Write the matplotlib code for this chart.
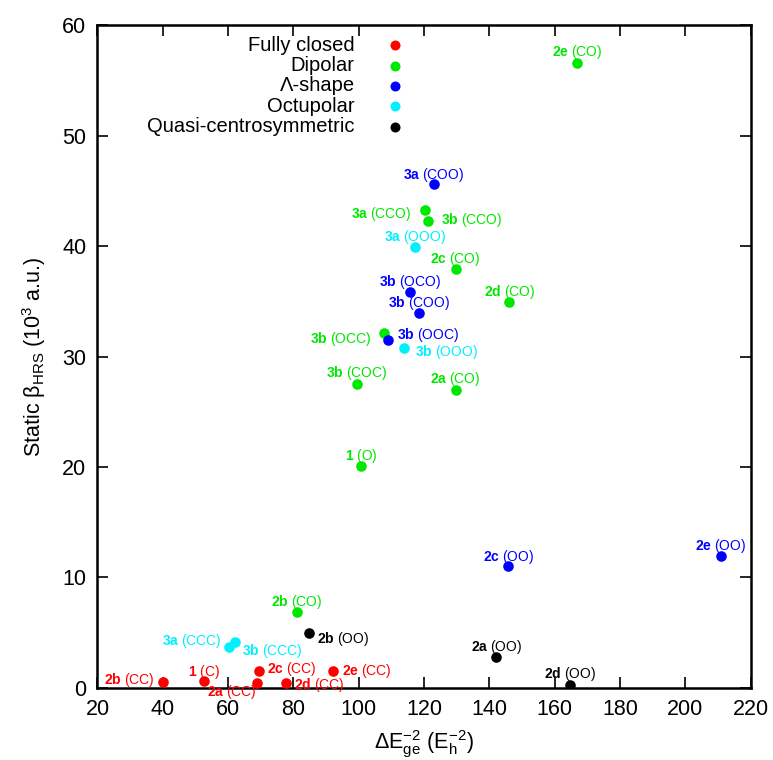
"""
quick scatter: static beta_HRS vs dE_ge^-2, coloured by chromophore class
"""
import matplotlib
matplotlib.use("Agg")
import matplotlib.pyplot as plt

plt.rcParams["font.family"] = ["Liberation Sans", "DejaVu Sans"]
plt.rcParams["mathtext.fontset"] = "custom"
plt.rcParams["mathtext.rm"] = "Liberation Sans"
plt.rcParams["mathtext.it"] = "Liberation Sans:italic"
plt.rcParams["mathtext.bf"] = "Liberation Sans:bold"

# --- data -----------------------------------------------------------------
closed_x = [40.0, 52.5, 68.8, 69.5, 77.7, 92.2]
closed_y = [0.55, 0.58, 0.40, 1.49, 0.40, 1.49]
closed_ids = ["2b", "1", "2a", "2c", "2d", "2e"]
closed_tags = ["CC", "C", "CC", "CC", "CC", "CC"]

dipolar_x = [81.0, 166.9, 120.3, 121.3, 129.7, 146.1, 107.8, 99.4, 129.7, 100.7]
dipolar_y = [6.86, 56.6, 43.3, 42.3, 37.9, 34.96, 32.1, 27.5, 27.0, 20.1]
dipolar_ids = ["2b", "2e", "3a", "3b", "2c", "2d", "3b", "3b", "2a", "1"]
dipolar_tags = ["CO", "CO", "CCO", "CCO", "CO", "CO", "OCC", "COC", "CO", "O"]

lambda_x = [123.1, 115.7, 118.5, 108.9, 145.8, 211.0]
lambda_y = [45.6, 35.8, 33.9, 31.5, 11.0, 11.9]
lambda_ids = ["3a", "3b", "3b", "3b", "2c", "2e"]
lambda_tags = ["COO", "OCO", "COO", "OOC", "OO", "OO"]

octu_x = [60.2, 62.1, 117.2, 113.8]
octu_y = [3.66, 4.17, 39.9, 30.8]
octu_ids = ["3a", "3b", "3a", "3b"]
octu_tags = ["CCC", "CCC", "OOO", "OOO"]

quasi_x = [84.8, 142.1, 164.8]
quasi_y = [4.93, 2.81, 0.24]
quasi_ids = ["2b", "2a", "2d"]
quasi_tags = ["OO", "OO", "OO"]

classes = ["Fully closed", "Dipolar", "Λ-shape", "Octupolar", "Quasi-centrosymmetric"]

# label placement (pixel offsets from the point, alignment)
closed_off = [(-8.7, 1.7, "right"), (0, 9.6, "center"), (0, -8.4, "right"),
              (7.7, 2, "left"), (8, -2, "left"), (8.4, 0, "left")]
dipolar_off = [(0, 10.3, "center"), (0, 11, "center"), (-13.3, -4, "right"),
               (12.4, 1, "left"), (0, 10.3, "center"), (0, 10, "center"),
               (-13, -5.7, "right"), (0, 11, "center"), (0, 11, "center"),
               (0, 10, "center")]
lambda_off = [(0, 9, "center"), (0, 10.3, "center"), (0, 10.4, "center"),
              (9, 4.6, "left"), (0, 9.3, "center"), (0, 10, "center")]
octu_off = [(-7, 6.6, "right"), (7.3, -9.3, "left"), (0, 10.6, "center"),
            (11.3, -4.4, "left")]
quasi_off = [(7.7, -6, "left"), (0, 10, "center"), (0, 10.7, "center")]

colors = ["#ff0000", "#00e800", "#0000ff", "#00f0ff", "#000000"]

groups = [
    (closed_x, closed_y, closed_ids, closed_tags, closed_off),
    (dipolar_x, dipolar_y, dipolar_ids, dipolar_tags, dipolar_off),
    (lambda_x, lambda_y, lambda_ids, lambda_tags, lambda_off),
    (octu_x, octu_y, octu_ids, octu_tags, octu_off),
    (quasi_x, quasi_y, quasi_ids, quasi_tags, quasi_off),
]

fig = plt.figure(figsize=(7.73, 7.60), dpi=100)
ax = fig.add_axes([0.1261, 0.0951, 0.8448, 0.8716])

for (xs, ys, ids, tags, offs), c in zip(groups, colors):
    ax.scatter(xs, ys, s=58, color=c, zorder=3, linewidths=0)
    for x, y, name, tag, (dx, dy, ha) in zip(xs, ys, ids, tags, offs):
        ax.annotate(rf"$\mathbf{{{name}}}$ ({tag})", (x, y), xytext=(dx, dy),
                    textcoords="offset pixels", ha=ha, va="center",
                    fontsize=10, color=c, zorder=4)

# gnuplot-style key: right-aligned text, marker after it
for i, (lab, c) in enumerate(zip(classes, colors)):
    yk = 0.970 - i * 0.0308
    ax.text(0.394, yk, lab, transform=ax.transAxes, ha="right", va="center", fontsize=14.5)
    ax.scatter([0.456], [yk], s=52, color=c, transform=ax.transAxes, linewidths=0, clip_on=False)

ax.set_xlim(20, 220)
ax.set_ylim(0, 60)
ax.set_xticks(range(20, 221, 20))
ax.set_yticks(range(0, 61, 10))
ax.tick_params(direction="in", length=8, width=1.2, top=True, right=True,
               labelsize=15.5, pad=8)
for sp in ax.spines.values():
    sp.set_linewidth(1.8)

ax.set_xlabel(r"ΔE$_{\rm ge}^{-2}$ (E$_{\rm h}^{-2}$)", fontsize=15.5, labelpad=6)
ax.set_ylabel(r"Static β$_{\rm HRS}$ (10$^{3}$ a.u.)", fontsize=15.5, labelpad=10)

fig.savefig("out.png", dpi=100)
plt.close(fig)
